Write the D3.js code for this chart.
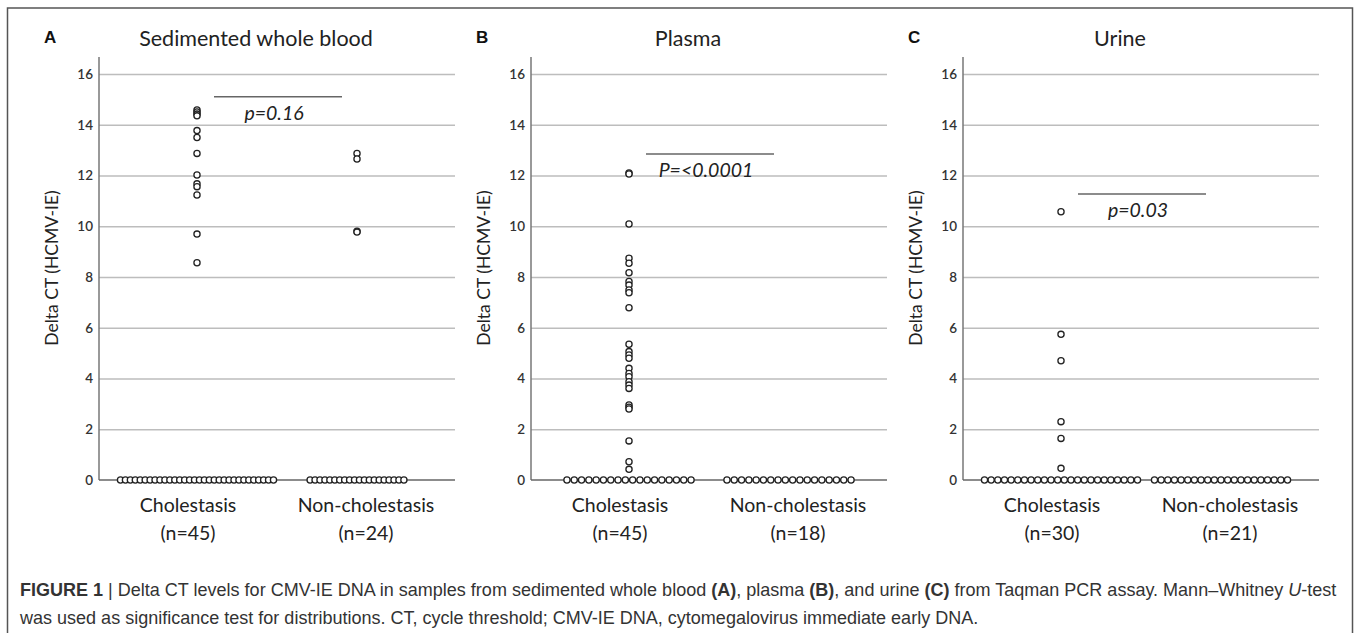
<!DOCTYPE html>
<html>
<head>
<meta charset="utf-8">
<script src="https://cdn.jsdelivr.net/npm/d3@7"></script>
<style>
  body { margin: 0; background: #fff; }
  svg { display: block; }
</style>
</head>
<body>
<div id="chart"></div>
<script>
// values
const panelLetters = ["A", "B", "C"];
const panelTitles = ["Sedimented whole blood", "Plasma", "Urine"];
const categories = ["Cholestasis", "Non-cholestasis"];
const groupSizes = [[45, 24], [45, 18], [30, 21]];

// non-zero delta CT values per group (rest of each group sits at 0)
const bloodChol = [14.58, 14.5, 14.42, 14.35, 13.77, 13.5, 12.87, 12.02, 11.67, 11.56, 11.23, 9.69, 8.56];
const bloodNon = [12.87, 12.65, 9.8, 9.77];
const plasmaChol = [12.1, 12.06, 10.09, 8.74, 8.54, 8.17, 7.82, 7.68, 7.49, 7.38, 6.79,
  5.35, 5.06, 4.93, 4.8, 4.4, 4.2, 4.07, 3.87, 3.74, 3.61, 2.96, 2.87, 2.8, 1.54, 0.72, 0.42];
const plasmaNon = [];
const urineChol = [10.57, 5.74, 4.7, 2.3, 1.64, 0.46];
const urineNon = [];

const pLabels = ["p=0.16", "P=<0.0001", "p=0.03"];
const pLevels = [15.1, 12.85, 11.27];
const yTicks = [0, 2, 4, 6, 8, 10, 12, 14, 16];

const positives = [[bloodChol, bloodNon], [plasmaChol, plasmaNon], [urineChol, urineNon]];

var W = 1357, H = 633;
var plotLefts = [99, 531, 963], plotW = 356;
var chartFont = "Lato, 'Open Sans', sans-serif";

var svg = d3.select("#chart").append("svg")
    .attr("width", W)
    .attr("height", H);

// outer frame
svg.append("rect")
    .attr("x", 7.5).attr("y", 8)
    .attr("width", 1345).attr("height", 660)
    .attr("fill", "none")
    .attr("stroke", "#555")
    .attr("stroke-width", 1.5);

var y = d3.scaleLinear()
    .domain([0, 16])
    .range([480, 74]);

panelLetters.forEach(function(letter, p) {
    var left = plotLefts[p];
    var g = svg.append("g");

    var x = d3.scalePoint()
        .domain(categories)
        .range([left, left + plotW])
        .padding(0.6125);
    var xLab = d3.scaleBand()
        .domain(categories)
        .range([left, left + plotW]);

    // gridlines
    g.append("g")
        .attr("transform", "translate(" + left + ",0)")
        .call(d3.axisLeft(y).tickValues(yTicks.slice(1)).tickSize(-plotW).tickFormat(""))
        .call(function(a) {
            a.select(".domain").remove();
            a.selectAll("line").attr("stroke", "#bdbdbd").attr("stroke-width", 1.5);
        });

    // y axis labels
    g.append("g")
        .attr("transform", "translate(" + left + ",0)")
        .call(d3.axisLeft(y).tickValues(yTicks).tickSize(0).tickPadding(6).tickFormat(d3.format("d")))
        .call(function(a) {
            a.select(".domain").remove();
            a.selectAll("text")
                .attr("font-family", chartFont)
                .attr("font-size", 13.5)
                .attr("font-weight", 600)
                .attr("fill", "#333");
        });

    // axis lines
    g.append("line")
        .attr("x1", left).attr("x2", left)
        .attr("y1", y(16.67)).attr("y2", y(0))
        .attr("stroke", "#777").attr("stroke-width", 1.5);
    g.append("line")
        .attr("x1", left).attr("x2", left + plotW)
        .attr("y1", y(0)).attr("y2", y(0))
        .attr("stroke", "#666").attr("stroke-width", 1.5);

    // zero rows, stacked sideways
    var zeroCounts = groupSizes[p].map(function(n, i) { return n - positives[p][i].length; });
    var step = Math.min(7.3, 153 / (d3.max(zeroCounts) - 1));

    var dots = [];
    categories.forEach(function(cat, i) {
        var n0 = zeroCounts[i];
        for (var k = 0; k < n0; k++) {
            dots.push({cat: cat, v: 0, off: (k - (n0 - 1) / 2) * step});
        }
        positives[p][i].forEach(function(v) { dots.push({cat: cat, v: v, off: 0}); });
    });

    g.append("g")
        .selectAll("circle")
        .data(dots)
        .enter()
        .append("circle")
            .attr("cx", function(d) { return x(d.cat) + d.off; })
            .attr("cy", function(d) { return y(d.v); })
            .attr("r", 3.1)
            .attr("fill", "#fff")
            .attr("stroke", "#222")
            .attr("stroke-width", 1.3);

    // significance bar
    var bx = x(categories[0]) + 17;
    g.append("line")
        .attr("x1", bx).attr("x2", bx + 128)
        .attr("y1", y(pLevels[p])).attr("y2", y(pLevels[p]))
        .attr("stroke", "#666").attr("stroke-width", 1.5);
    g.append("text")
        .attr("x", bx + 60)
        .attr("y", y(pLevels[p]) + 23)
        .attr("text-anchor", "middle")
        .attr("font-family", chartFont)
        .attr("font-style", "italic")
        .attr("font-size", 19.5)
        .attr("fill", "#222")
        .text(pLabels[p]);

    // category labels
    categories.forEach(function(cat, i) {
        var t = g.append("text")
            .attr("text-anchor", "middle")
            .attr("font-family", chartFont)
            .attr("font-size", 19.5)
            .attr("fill", "#222");
        t.append("tspan")
            .attr("x", xLab(cat) + xLab.bandwidth() / 2)
            .attr("y", 512)
            .text(cat);
        t.append("tspan")
            .attr("x", xLab(cat) + xLab.bandwidth() / 2)
            .attr("y", 540)
            .text("(n=" + groupSizes[p][i] + ")");
    });

    // titles
    g.append("text")
        .attr("x", left + 157)
        .attr("y", 46)
        .attr("text-anchor", "middle")
        .attr("font-family", chartFont)
        .attr("font-size", 21.5)
        .attr("fill", "#222")
        .text(panelTitles[p]);
    g.append("text")
        .attr("x", left - 55)
        .attr("y", 43)
        .attr("font-family", "'Liberation Sans', Arial, sans-serif")
        .attr("font-weight", "bold")
        .attr("font-size", 17)
        .attr("fill", "#111")
        .text(letter);
    g.append("text")
        .attr("transform", "translate(" + (left - 41) + "," + 268 + ") rotate(-90)")
        .attr("text-anchor", "middle")
        .attr("font-family", chartFont)
        .attr("font-size", 17.5)
        .attr("fill", "#222")
        .text("Delta CT (HCMV-IE)");
});

// caption
var cap = svg.append("text")
    .attr("font-family", "'Liberation Sans', Arial, sans-serif")
    .attr("font-size", 15)
    .attr("fill", "#333");
var line1 = cap.append("tspan").attr("x", 20).attr("y", 596);
[["FIGURE 1", "b"], [" | Delta CT levels for CMV-IE DNA in samples from sedimented whole blood ", ""],
 ["(A)", "b"], [", plasma ", ""], ["(B)", "b"], [", and urine ", ""], ["(C)", "b"],
 [" from Taqman PCR assay. Mann\u2013Whitney ", ""], ["U", "i"], ["-test", ""]].forEach(function(s) {
    line1.append("tspan")
        .attr("font-weight", s[1] == "b" ? "bold" : null)
        .attr("font-style", s[1] == "i" ? "italic" : null)
        .text(s[0]);
});
var line2 = cap.append("tspan").attr("x", 20).attr("y", 624)
    .text("was used as significance test for distributions. CT, cycle threshold; CMV-IE DNA, cytomegalovirus immediate early DNA.");

// fit the first caption line to the frame width
var w1 = line1.node().getComputedTextLength();
cap.attr("font-size", 15 * 1317 / w1);
</script>
</body>
</html>
